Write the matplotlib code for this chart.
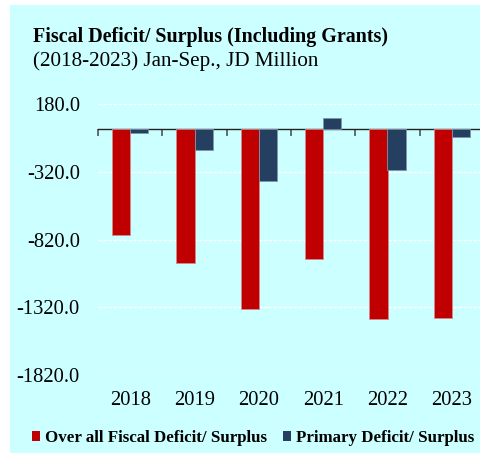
import numpy as np
import matplotlib.pyplot as plt
from matplotlib.patches import Rectangle, Patch

years = ["2018", "2019", "2020", "2021", "2022", "2023"]
overall_deficit = [-785, -994, -1329, -960, -1408, -1396]
primary_deficit = [-34, -157, -384, 81, -305, -61]
ytick_values = [180, -320, -820, -1320, -1820]
ytick_labels = ["180.0", "-320.0", "-820.0", "-1320.0", "-1820.0"]

plt.rcParams['font.family'] = ['Liberation Serif', 'DejaVu Serif']

W, H = 480, 453
fig = plt.figure(figsize=(W / 100, H / 100), dpi=100)
fig.patch.set_facecolor('white')
# light cyan panel behind everything
fig.patches.append(Rectangle((10 / W, 0), 1, 1 - 5 / H, transform=fig.transFigure,
                             facecolor='#CCFFFF', edgecolor='none', zorder=-10))

# axes box in pixel terms: x 98..484, y 104..375 (top=180, bottom=-1820)
ax = fig.add_axes([98 / W, 1 - 375 / H, 386 / W, (375 - 104.3) / H])
ax.set_facecolor('none')

x = np.arange(len(years))
bw = 0.28
ax.bar(x - bw / 2, overall_deficit, bw, color='#C00000', edgecolor='#D08A8A', linewidth=0.6,
       label='Over all Fiscal Deficit/ Surplus', zorder=3)
ax.bar(x + bw / 2, primary_deficit, bw, color='#243F60', edgecolor='#7F95A8', linewidth=0.6,
       label='Primary Deficit/ Surplus', zorder=3)

ax.set_xlim(-0.5, len(years) - 0.5)
ax.set_ylim(-1820, 180)

for s in ['top', 'right', 'left']:
    ax.spines[s].set_visible(False)
ax.spines['bottom'].set_position(('data', 0))
ax.spines['bottom'].set_color('#222222')
ax.spines['bottom'].set_linewidth(1.0)

ax.set_xticks(np.arange(len(years) + 1) - 0.5)
ax.set_xticklabels([])
ax.tick_params(axis='x', length=5, width=1.2, color='#555555', direction='out')

ax.set_yticks(ytick_values)
ax.set_yticklabels(ytick_labels)
ax.tick_params(axis='y', length=0, pad=13, labelsize=14.8)
ax.yaxis.grid(True, color='white', linestyle=(0, (3, 1)), linewidth=0.9)
ax.set_axisbelow(True)

for i, yr in enumerate(years):
    ax.text(i, -0.096, yr, transform=ax.get_xaxis_transform(), ha='center', va='center',
            fontsize=14.8)

fig.text(33 / W, 1 - 37 / H, "Fiscal Deficit/ Surplus (Including Grants)", fontsize=14.4,
         fontweight='bold', ha='left', va='center')
fig.text(33 / W, 1 - 61 / H, "(2018-2023) Jan-Sep., JD Million", fontsize=15.2,
         ha='left', va='center')

handles = [Patch(facecolor='#C00000'), Patch(facecolor='#243F60')]
fig.legend(handles, ['Over all Fiscal Deficit/ Surplus', 'Primary Deficit/ Surplus'],
           loc='center', bbox_to_anchor=(253 / W, 1 - 438 / H), ncol=2, frameon=False,
           prop={'weight': 'bold', 'size': 12.2}, handlelength=0.5, handleheight=0.5,
           handletextpad=0.3, columnspacing=0.9, borderpad=0, borderaxespad=0)

fig.savefig('out.png', dpi=100)
